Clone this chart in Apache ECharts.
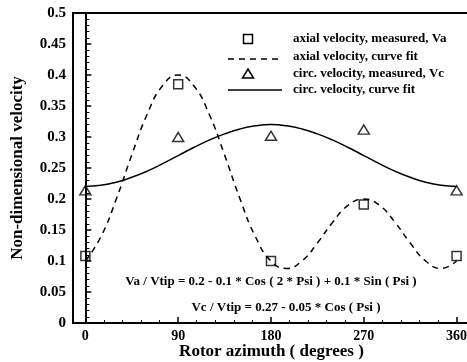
<!DOCTYPE html>
<html>

<head>
    <meta charset="UTF-8">
    <title>echarts-rotor azimuth velocity</title>
</head>

<script src="https://cdn.jsdelivr.net/npm/echarts@6.0.0/dist/echarts.min.js"></script>

<body style="margin:0;">
    <div id="velocityBox" style="width: 467px;height:362px;"></div>

    <script>
        // measured points
        var measuredAzimuth = [0, 90, 180, 270, 360];
        var vaMeasured = [0.108, 0.385, 0.1, 0.191, 0.108];
        var vcMeasured = [0.214, 0.3, 0.302, 0.312, 0.214];

        // curve fits, read every 15 degrees
        var fitAzimuth = [0, 15, 30, 45, 60, 75, 90, 105, 120, 135, 150, 165, 180,
            195, 210, 225, 240, 255, 270, 285, 300, 315, 330, 345, 360];
        var vaFit = [0.1, 0.139, 0.2, 0.271, 0.337, 0.383, 0.4, 0.383, 0.337, 0.271, 0.2, 0.139, 0.1,
            0.088, 0.1, 0.129, 0.163, 0.19, 0.2, 0.19, 0.163, 0.129, 0.1, 0.088, 0.1];
        var vcFit = [0.22, 0.222, 0.227, 0.235, 0.245, 0.257, 0.27, 0.283, 0.295, 0.305, 0.313, 0.318, 0.32,
            0.318, 0.313, 0.305, 0.295, 0.283, 0.27, 0.257, 0.245, 0.235, 0.227, 0.222, 0.22];

        // axis ticks
        var xMajorTicks = [0, 90, 180, 270, 360];
        var xMinorTicks = [18, 36, 54, 72, 108, 126, 144, 162, 198, 216, 234, 252, 288, 306, 324, 342];

        var legendNames = [
            'axial velocity, measured, Va',
            'axial velocity, curve fit',
            'circ. velocity, measured, Vc',
            'circ. velocity, curve fit'
        ];
        var formulaTexts = [
            'Va / Vtip = 0.2 - 0.1 * Cos ( 2 * Psi ) + 0.1 * Sin ( Psi )',
            'Vc / Vtip = 0.27 - 0.05 * Cos ( Psi )'
        ];

        var serif = '"Liberation Serif", "Times New Roman", serif';

        function pairs(xs, ys) {
            return xs.map(function (x, i) { return [x, ys[i]]; });
        }

        function velocityChart(idname) {
            var myChart = echarts.init(document.getElementById(idname));

            var legendY = [39, 57, 74, 90];
            var graphic = [
                // legend symbols
                { type: 'rect', shape: { x: 243.5, y: legendY[0] - 4.5, width: 9, height: 9 },
                  style: { fill: 'none', stroke: '#000', lineWidth: 1.5 } },
                { type: 'line', shape: { x1: 228, y1: legendY[1] + 2, x2: 282, y2: legendY[1] + 2 },
                  style: { stroke: '#000', lineWidth: 1.5, lineDash: [6, 5] } },
                { type: 'polygon', shape: { points: [[248, legendY[2] - 5], [253.5, legendY[2] + 4], [242.5, legendY[2] + 4]] },
                  style: { fill: 'none', stroke: '#000', lineWidth: 1.5 } },
                { type: 'line', shape: { x1: 228, y1: legendY[3], x2: 282, y2: legendY[3] },
                  style: { stroke: '#000', lineWidth: 1.5 } }
            ];
            legendNames.forEach(function (name, i) {
                graphic.push({
                    type: 'text', x: 293, y: legendY[i],
                    style: { text: name, font: 'bold 13px ' + serif, fill: '#000', verticalAlign: 'middle' }
                });
            });
            // formula notes
            graphic.push({
                type: 'text', x: 271, y: 282,
                style: { text: formulaTexts[0], font: 'bold 13px ' + serif, fill: '#000', align: 'center', verticalAlign: 'middle' }
            });
            graphic.push({
                type: 'text', x: 286, y: 308,
                style: { text: formulaTexts[1], font: 'bold 13px ' + serif, fill: '#000', align: 'center', verticalAlign: 'middle' }
            });

            var option = {
                backgroundColor: '#fff',
                animation: false,
                grid: {
                    left: 73,
                    right: -3,
                    top: 13,
                    bottom: 39,
                    show: true,
                    borderColor: '#000',
                    borderWidth: 2,
                    outerBoundsMode: 'none'
                },
                xAxis: [{
                    type: 'value',
                    min: -12,
                    max: 373,
                    name: 'Rotor azimuth ( degrees )',
                    nameLocation: 'middle',
                    nameGap: 20,
                    nameMoveOverlap: false,
                    nameTextStyle: { fontFamily: serif, fontWeight: 'bold', fontSize: 17, color: '#000' },
                    axisLine: { lineStyle: { color: '#000', width: 2 } },
                    axisTick: { inside: true, length: 6, lineStyle: { color: '#000', width: 1.5 }, customValues: xMajorTicks },
                    axisLabel: { margin: 6, fontFamily: serif, fontWeight: 'bold', fontSize: 14, color: '#000', customValues: xMajorTicks },
                    splitLine: { show: false }
                }, {
                    type: 'value',
                    min: -12,
                    max: 373,
                    position: 'bottom',
                    axisLine: { show: false },
                    axisTick: { inside: true, length: 3, lineStyle: { color: '#000', width: 1 }, customValues: xMinorTicks },
                    axisLabel: { show: false },
                    splitLine: { show: false }
                }],
                yAxis: {
                    type: 'value',
                    min: 0,
                    max: 0.5,
                    interval: 0.05,
                    name: 'Non-dimensional velocity',
                    nameLocation: 'middle',
                    nameGap: 47,
                    nameMoveOverlap: false,
                    nameTextStyle: { fontFamily: serif, fontWeight: 'bold', fontSize: 17, color: '#000' },
                    axisLine: { lineStyle: { color: '#000', width: 2 } },
                    axisTick: { inside: true, length: 6, lineStyle: { color: '#000', width: 1.5 } },
                    minorTick: { show: true, splitNumber: 5, length: 4, lineStyle: { color: '#000', width: 1 } },
                    axisLabel: { margin: 7, fontFamily: serif, fontWeight: 'bold', fontSize: 15, color: '#000' },
                    splitLine: { show: false }
                },
                graphic: graphic,
                series: [{
                        name: legendNames[1],
                        type: 'line',
                        smooth: 0.5,
                        showSymbol: false,
                        lineStyle: { color: '#000', width: 1.5, type: [6, 5] },
                        data: pairs(fitAzimuth, vaFit)
                    },
                    {
                        name: legendNames[3],
                        type: 'line',
                        smooth: 0.5,
                        showSymbol: false,
                        lineStyle: { color: '#000', width: 1.5 },
                        data: pairs(fitAzimuth, vcFit)
                    },
                    {
                        name: legendNames[0],
                        type: 'scatter',
                        symbol: 'rect',
                        symbolSize: 9,
                        itemStyle: { color: 'rgba(0,0,0,0)', borderColor: '#000', borderWidth: 1.5 },
                        data: pairs(measuredAzimuth, vaMeasured)
                    },
                    {
                        name: legendNames[2],
                        type: 'scatter',
                        symbol: 'triangle',
                        symbolSize: [11, 9],
                        itemStyle: { color: 'rgba(0,0,0,0)', borderColor: '#000', borderWidth: 1.5 },
                        data: pairs(measuredAzimuth, vcMeasured)
                    }
                ]
            };

            myChart.setOption(option);
        }

        velocityChart('velocityBox');
    </script>

</body>

</html>
